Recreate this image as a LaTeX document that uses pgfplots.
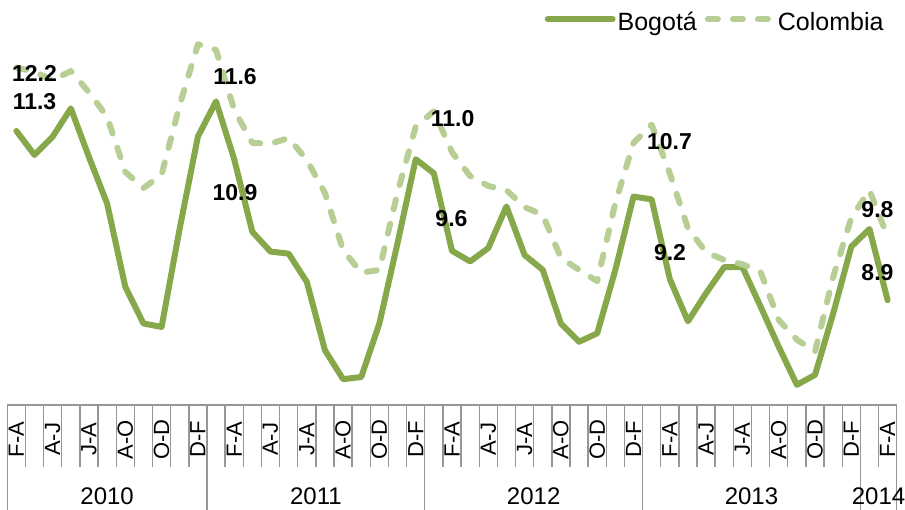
\documentclass[border=0pt]{standalone}
\usepackage{fontspec}
\setmainfont{Liberation Sans}
\usepackage{pgfplots}
\pgfplotsset{compat=1.18}
\definecolor{bog}{RGB}{134,168,74}
\definecolor{col}{RGB}{183,206,148}
\definecolor{gridg}{RGB}{150,150,150}
\pgfplotstableread{
x y
0 11.3
1 10.96
2 11.22
3 11.62
4 10.93
5 10.27
6 9.09
7 8.57
8 8.52
9 9.92
10 11.22
11 11.72
12 10.9
13 9.87
14 9.59
15 9.56
16 9.16
17 8.19
18 7.78
19 7.81
20 8.57
21 9.71
22 10.9
23 10.7
24 9.6
25 9.45
26 9.64
27 10.23
28 9.54
29 9.33
30 8.57
31 8.31
32 8.43
33 9.33
34 10.37
35 10.33
36 9.2
37 8.6
38 9.0
39 9.37
40 9.37
41 8.81
42 8.24
43 7.70
44 7.84
45 8.71
46 9.66
47 9.91
48 8.9
}\bogota
\pgfplotstableread{
x y
0 12.2
1 12.14
2 12.02
3 12.15
4 11.85
5 11.5
6 10.72
7 10.49
8 10.68
9 11.67
10 12.53
11 12.45
12 11.6
13 11.13
14 11.12
15 11.2
16 10.89
17 10.42
18 9.61
19 9.29
20 9.33
21 10.43
22 11.36
23 11.58
24 11.0
25 10.66
26 10.52
27 10.46
28 10.22
29 10.11
30 9.5
31 9.33
32 9.17
33 10.28
34 11.13
35 11.39
36 10.7
37 9.92
38 9.58
39 9.47
40 9.41
41 9.3
42 8.62
43 8.34
44 8.17
45 9.23
46 10.07
47 10.46
48 9.8
}\colombia
\begin{document}
\begin{tikzpicture}
\useasboundingbox (-7.3pt,-105pt) rectangle (897.7pt,405pt);
\begin{axis}[
  scale only axis, width=889.4pt, height=405pt,
  at={(0pt,0pt)}, anchor=south west,
  xmin=-0.5, xmax=48.5, ymin=7.4135, ymax=13.158,
  axis line style={draw=none},
  ytick=\empty,
  xtick={0,2,...,48},
  xticklabels={F-A,A-J,J-A,A-O,O-D,D-F,F-A,A-J,J-A,A-O,O-D,D-F,F-A,A-J,J-A,A-O,O-D,D-F,F-A,A-J,J-A,A-O,O-D,D-F,F-A},
  major tick length=0pt,
  xticklabel style={font=\fontsize{22}{22}\selectfont, yshift=-34.5pt, rotate=90, anchor=center},
  clip=false,
  legend style={draw=none, fill=none, at={(axis description cs:1,1)}, anchor=north east,
    xshift=-8pt, yshift=-8pt, font=\fontsize{25}{25}\selectfont,
    /tikz/every even column/.append style={column sep=6pt}},
  legend columns=2,
  legend image code/.code={\draw[#1] (0pt,0.3em) -- (65pt,0.3em);},
]
\pgfplotsinvokeforeach{-0.5,0.5,...,48.5}{
  \draw[gridg, line width=1.4pt] (axis cs:#1,7.4135) -- ++(0pt,-62pt);
}
\pgfplotsinvokeforeach{-0.5,10.5,22.5,34.5,46.5,48.5}{
  \draw[gridg, line width=1.4pt] (axis cs:#1,7.4135) -- ++(0pt,-105pt);
}
\draw[gridg, line width=1.4pt] (axis cs:-0.5,7.4135) -- (axis cs:48.5,7.4135);
\addplot[bog, line width=6pt, line join=round, line cap=round] table[x=x,y=y] {\bogota};
\addlegendentry{Bogotá}
\addplot[col, line width=6pt, line join=round, line cap=round, dash pattern=on 10pt off 15pt] table[x=x,y=y] {\colombia};
\addlegendentry{Colombia}
\tikzset{lab/.style={font=\bfseries\fontsize{23}{23}\selectfont, anchor=center, inner sep=0pt}}
\node[lab] at (axis cs:1.0,12.116) {12.2};
\node[lab] at (axis cs:1.0,11.711) {11.3};
\node[lab] at (axis cs:12.045,12.066) {11.6};
\node[lab] at (axis cs:12.045,10.428) {10.9};
\node[lab] at (axis cs:24.03,11.47) {11.0};
\node[lab] at (axis cs:23.97,10.052) {9.6};
\node[lab] at (axis cs:35.98,11.144) {10.7};
\node[lab] at (axis cs:36.01,9.57) {9.2};
\node[lab] at (axis cs:47.44,10.187) {9.8};
\node[lab] at (axis cs:47.44,9.286) {8.9};
\tikzset{yr/.style={font=\fontsize{24}{24}\selectfont, anchor=center, inner sep=0pt}}
\node[yr] at ([yshift=-91.5pt]axis cs:5,7.4135) {2010};
\node[yr] at ([yshift=-91.5pt]axis cs:16.5,7.4135) {2011};
\node[yr] at ([yshift=-91.5pt]axis cs:28.5,7.4135) {2012};
\node[yr] at ([yshift=-91.5pt]axis cs:40.5,7.4135) {2013};
\node[yr] at ([yshift=-91.5pt]axis cs:47.5,7.4135) {2014};
\end{axis}
\end{tikzpicture}
\end{document}
